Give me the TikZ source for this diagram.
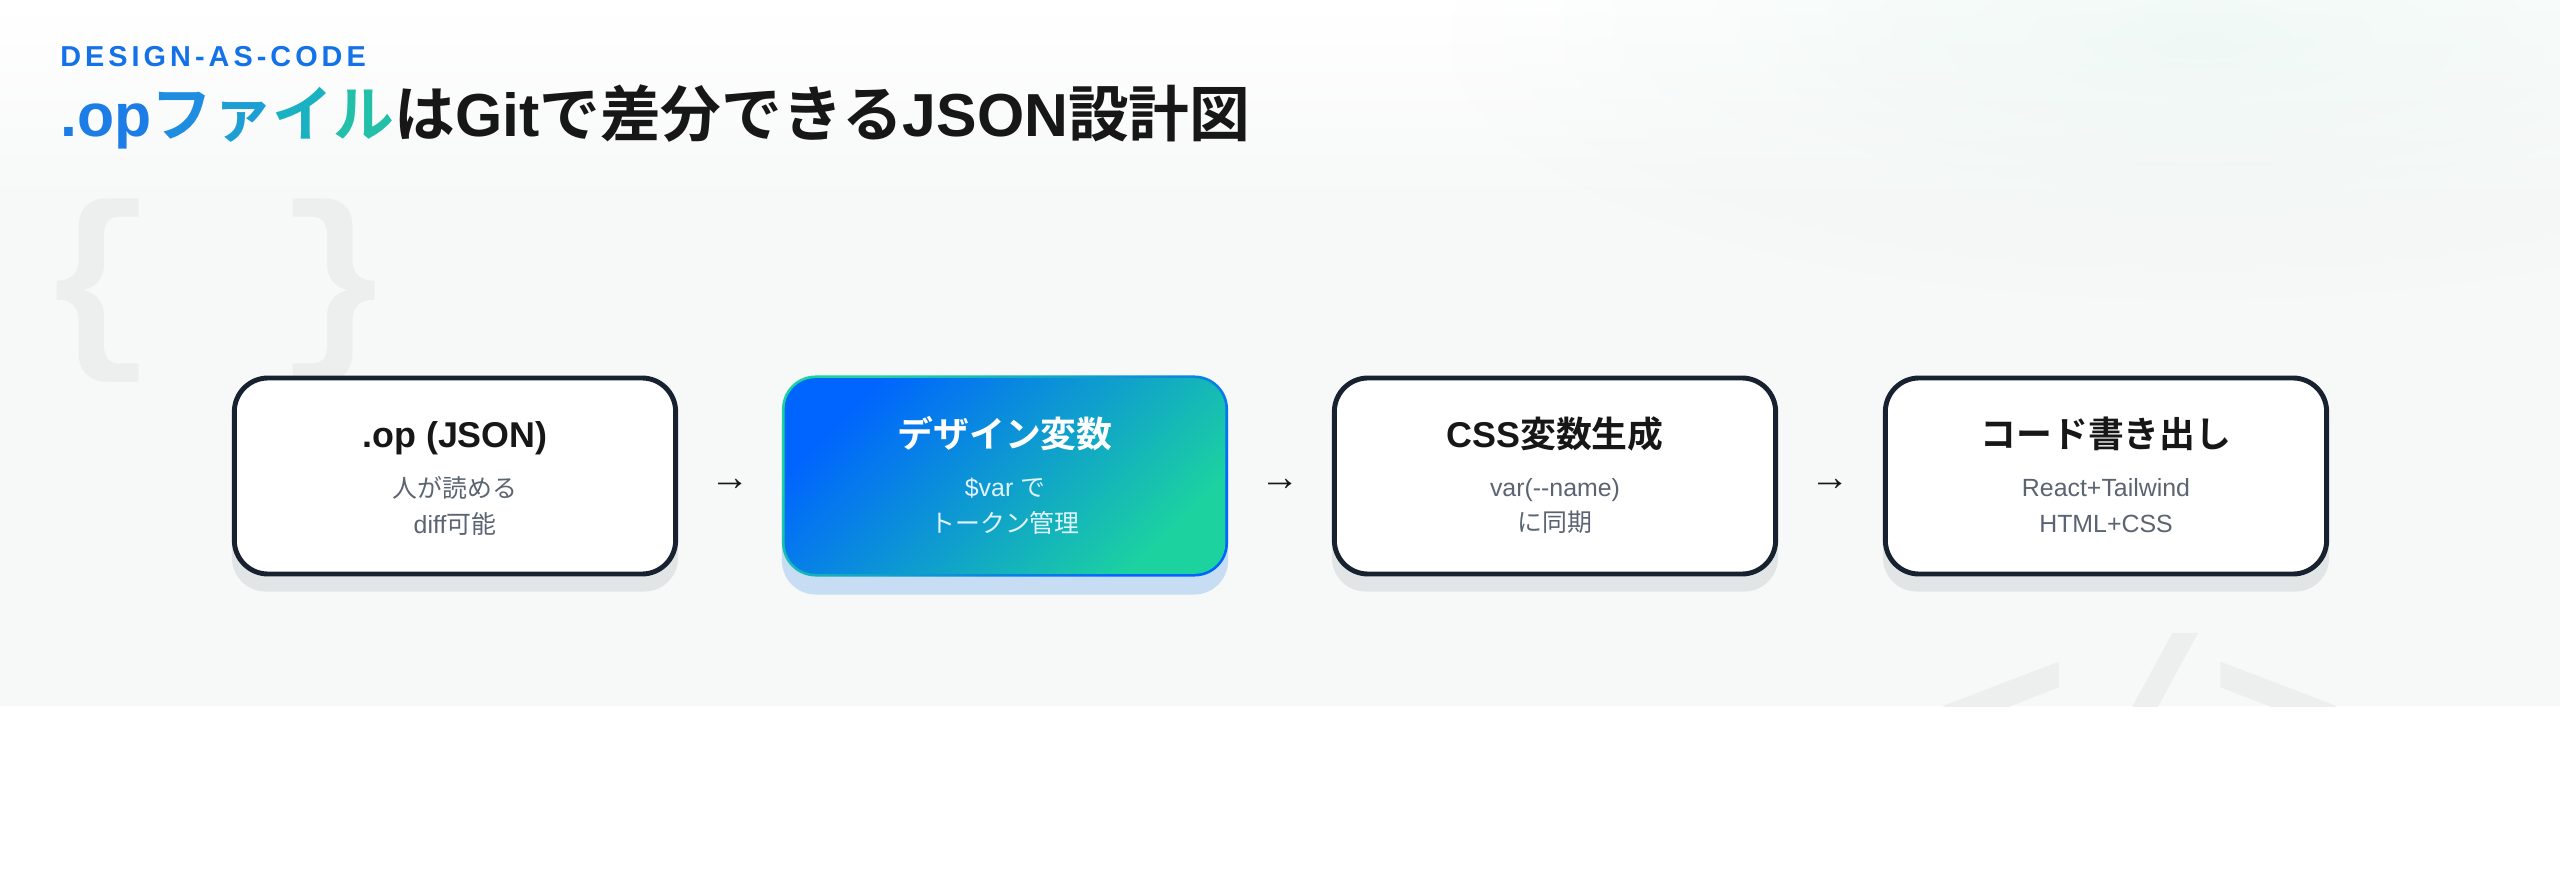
\documentclass[tikz,border=0pt]{standalone}
\usepackage{fontspec}
\setmainfont{Liberation Sans}
\newfontfamily\jp{Noto Sans CJK JP}[BoldFont={Noto Sans CJK JP Bold}]
\newfontfamily\spaced{Liberation Sans}[LetterSpace=14]
\newfontfamily\decomono{Liberation Mono}
\usetikzlibrary{positioning, calc, backgrounds, fadings}
\definecolor{pagegray}{RGB}{247, 248, 248}
\definecolor{glowteal}{RGB}{233, 246, 241}
\definecolor{decogray}{RGB}{237, 239, 239}
\definecolor{tagblue}{RGB}{19, 114, 232}
\definecolor{opblue}{RGB}{28, 125, 230}
\definecolor{fileA}{RGB}{31, 142, 224}
\definecolor{fileB}{RGB}{29, 159, 212}
\definecolor{fileC}{RGB}{26, 178, 194}
\definecolor{fileD}{RGB}{34, 192, 168}
\definecolor{inkdark}{RGB}{23, 23, 23}
\definecolor{boxline}{RGB}{24, 33, 47}
\definecolor{boxshadow}{RGB}{226, 229, 230}
\definecolor{subgray}{RGB}{91, 100, 114}
\definecolor{varblue}{RGB}{0, 100, 255}
\definecolor{vargreen}{RGB}{28, 211, 160}
\definecolor{varshadow}{RGB}{198, 221, 244}
\definecolor{varsub}{RGB}{225, 243, 255}
\tikzfading[name=softglow, inner color=transparent!35, outer color=transparent!100]
\tikzset{
  card/.style        = {rectangle, rounded corners=24pt, draw=boxline, line width=3.5pt, fill=white, minimum width=11.03cm, minimum height=4.9cm, inner sep=0pt},
  cardshade/.style   = {rectangle, rounded corners=24pt, fill=boxshadow, minimum width=11.15cm, minimum height=5.025cm, inner sep=0pt},
  cardrim/.style     = {rectangle, rounded corners=24pt, left color=vargreen, right color=varblue, shading angle=45, minimum width=11.15cm, minimum height=5.025cm, inner sep=0pt},
  cardfill/.style    = {rounded corners=22pt, left color=varblue, right color=vargreen, shading angle=45},
  cardhead/.style    = {anchor=base, font=\fontsize{25.5}{30}\selectfont\bfseries, text=inkdark, inner sep=0pt},
  cardsub/.style     = {anchor=center, align=center, font=\fontsize{17.7}{25.5}\selectfont, text=subgray, inner sep=0pt},
  flowarrow/.style   = {font=\fontsize{28}{30}\selectfont, text=inkdark, inner sep=0pt},
  deco/.style        = {font=\decomono\bfseries\fontsize{140}{140}\selectfont, text=decogray, inner sep=0pt},
}

\begin{document}
\begin{tikzpicture}[x=0.025cm, y=-0.025cm]
  \useasboundingbox (0,0) rectangle (2560,880);
  \fill[white] (0,0) rectangle (2560,880);
  \fill[pagegray] (0,0) rectangle (2560,706);
  \shade[top color=white, bottom color=pagegray] (0,0) rectangle (2560,200);
  \fill[glowteal, path fading=softglow] (2200,40) ellipse [x radius=750, y radius=260];

  % faint code marks
  \node[deco] (brace) at (216,291) {\{ \}};
  \begin{scope}
    \clip (0,0) rectangle (2560,706);
    \node[deco, anchor=base, font=\decomono\bfseries\fontsize{164}{164}\selectfont] (tag-mark) at (2140,800) {</>};
  \end{scope}

  % heading
  \node[anchor=base west, inner sep=0pt, font=\spaced\bfseries\fontsize{20.5}{24}\selectfont, text=tagblue] (kicker) at (60,67) {DESIGN-AS-CODE};
  \node[anchor=base west, inner sep=0pt, font=\fontsize{43.2}{50}\selectfont\bfseries, text=inkdark] (headline) at (60,137)
    {{\color{opblue}.op}{\jp\color{fileA}フ\color{fileB}ァ\color{fileC}イ\color{fileD}ル}{\jp は}Git{\jp で差分できる}JSON{\jp 設計図}};

  % shadows
  \node[cardshade] (op-sh)  at (455,491)  {};
  \node[cardshade, fill=varshadow] (var-sh) at (1005,494) {};
  \node[cardshade] (css-sh) at (1555,491) {};
  \node[cardshade] (out-sh) at (2106,491) {};

  % cards
  \node[card] (op)  at (455,476)  {};
  \node[cardrim] (var) at (1005,476) {};
  \shade[cardfill] ($(var.north west)+(3,3)$) rectangle ($(var.south east)+(-3,-3)$);
  \node[card] (css) at (1555,476) {};
  \node[card] (out) at (2106,476) {};

  \node[cardhead] (op-head) at ($(op.center)+(0,-29)$) {.op (JSON)};
  \node[cardsub] (op-sub) at ($(op.center)+(0,30)$) {{\jp 人が読める}\\diff{\jp 可能}};

  \node[cardhead, text=white] (var-head) at ($(var.center)+(0,-29)$) {\jp デザイン変数};
  \node[cardsub, text=varsub] (var-sub) at ($(var.center)+(0,30)$) {\$var {\jp で}\\{\jp トークン管理}};

  \node[cardhead] (css-head) at ($(css.center)+(0,-29)$) {CSS{\jp 変数生成}};
  \node[cardsub] (css-sub) at ($(css.center)+(0,30)$) {var(-{}-name)\\{\jp に同期}};

  \node[cardhead] (out-head) at ($(out.center)+(0,-29)$) {\jp コード書き出し};
  \node[cardsub] (out-sub) at ($(out.center)+(0,30)$) {React+Tailwind\\HTML+CSS};

  % arrows between cards
  \node[flowarrow] (arr1) at ($(op.east)!0.5!(var.west)+(0,9)$) {→};
  \node[flowarrow] (arr2) at ($(var.east)!0.5!(css.west)+(0,9)$) {→};
  \node[flowarrow] (arr3) at ($(css.east)!0.5!(out.west)+(0,9)$) {→};
\end{tikzpicture}
\end{document}
